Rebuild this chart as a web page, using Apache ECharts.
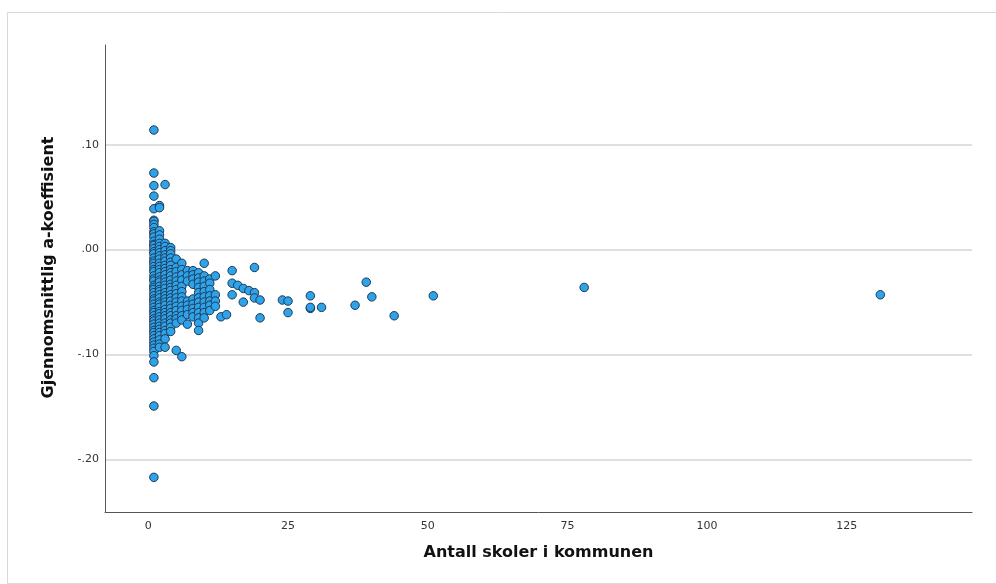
<!DOCTYPE html>
<html>
<head>
<meta charset="utf-8">
<script src="https://cdn.jsdelivr.net/npm/echarts@6/dist/echarts.min.js"></script>
<style>
  html, body { margin: 0; padding: 0; background: #ffffff; }
  #chart { width: 996px; height: 584px; }
</style>
</head>
<body>
<div id="chart"></div>
<script>
// Number of schools in the municipality (x) for the dense cluster columns
const clusterSchools = [1, 2, 3, 4, 5, 6, 7, 8, 9, 10, 11, 12, 13, 14];

// Average a-coefficient values for each cluster column
const coefAt1 = [0.114, 0.073, 0.061, 0.051, 0.039, 0.028, 0.027, 0.024, 0.021, 0.017, 0.015, 0.012, 0.008, 0.005, 0.004, 0.001, -0.002, -0.004, -0.008, -0.011, -0.013, -0.016, -0.019, -0.021, -0.025, -0.028, -0.030, -0.034, -0.036, -0.038, -0.041, -0.044, -0.047, -0.049, -0.052, -0.055, -0.058, -0.060, -0.063, -0.066, -0.068, -0.071, -0.074, -0.077, -0.079, -0.082, -0.085, -0.088, -0.091, -0.094, -0.097, -0.101, -0.107, -0.122, -0.149, -0.217];
const coefAt2 = [0.042, 0.040, 0.018, 0.014, 0.010, 0.006, 0.003, 0.000, -0.003, -0.006, -0.009, -0.013, -0.016, -0.019, -0.022, -0.026, -0.029, -0.031, -0.035, -0.038, -0.040, -0.043, -0.046, -0.050, -0.052, -0.055, -0.059, -0.061, -0.064, -0.067, -0.070, -0.073, -0.076, -0.079, -0.082, -0.086, -0.090, -0.093];
const coefAt3 = [0.062, 0.006, 0.003, -0.001, -0.005, -0.008, -0.011, -0.015, -0.018, -0.021, -0.024, -0.028, -0.031, -0.034, -0.037, -0.041, -0.044, -0.047, -0.050, -0.053, -0.057, -0.060, -0.063, -0.066, -0.070, -0.073, -0.077, -0.080, -0.085, -0.093];
const coefAt4 = [0.002, -0.001, -0.004, -0.008, -0.012, -0.015, -0.019, -0.022, -0.025, -0.029, -0.033, -0.036, -0.039, -0.043, -0.046, -0.049, -0.053, -0.056, -0.060, -0.063, -0.067, -0.070, -0.074, -0.078];
const coefAt5 = [-0.009, -0.017, -0.021, -0.026, -0.030, -0.034, -0.038, -0.042, -0.046, -0.050, -0.054, -0.058, -0.063, -0.066, -0.070, -0.096];
const coefAt6 = [-0.013, -0.019, -0.024, -0.029, -0.035, -0.040, -0.045, -0.049, -0.054, -0.058, -0.063, -0.067, -0.102];
const coefAt7 = [-0.020, -0.025, -0.030, -0.049, -0.053, -0.057, -0.062, -0.071];
const coefAt8 = [-0.020, -0.024, -0.028, -0.033, -0.047, -0.052, -0.056, -0.060, -0.064];
const coefAt9 = [-0.022, -0.027, -0.031, -0.036, -0.041, -0.046, -0.050, -0.055, -0.060, -0.065, -0.070, -0.077];
const coefAt10 = [-0.013, -0.025, -0.030, -0.035, -0.040, -0.045, -0.050, -0.055, -0.060, -0.065];
const coefAt11 = [-0.028, -0.032, -0.038, -0.044, -0.049, -0.053, -0.058];
const coefAt12 = [-0.025, -0.043, -0.049, -0.054];
const coefAt13 = [-0.064];
const coefAt14 = [-0.062];
const clusterCoefs = [coefAt1, coefAt2, coefAt3, coefAt4, coefAt5, coefAt6, coefAt7, coefAt8, coefAt9, coefAt10, coefAt11, coefAt12, coefAt13, coefAt14];

// Larger municipalities (x >= 15), paired values
const largeSchools = [15, 15, 15, 16, 17, 17, 18, 19, 19, 19, 20, 20, 24, 25, 25, 29, 29, 29, 31, 37, 39, 40, 44, 51, 78, 131];
const largeCoefs   = [-0.020, -0.032, -0.043, -0.034, -0.037, -0.050, -0.039, -0.017, -0.041, -0.046, -0.048, -0.065, -0.048, -0.049, -0.060, -0.044, -0.056, -0.055, -0.055, -0.053, -0.031, -0.045, -0.063, -0.044, -0.036, -0.043];

// Axis tick labels
const xTicks = [0, 25, 50, 75, 100, 125];
const yTicks = [-0.2, -0.1, 0, 0.1];

const points = [];
clusterSchools.forEach(function (s, i) {
  clusterCoefs[i].forEach(function (c) { points.push([s, c]); });
});
largeSchools.forEach(function (s, i) { points.push([s, largeCoefs[i]]); });

function fmtY(v) {
  const r = Math.round(v * 100) / 100;
  const s = Math.abs(r).toFixed(2).replace(/^0/, '');
  return (r < 0 ? '-' : '') + s;
}

const chart = echarts.init(document.getElementById('chart'), null, { renderer: 'canvas' });
chart.setOption({
  animation: false,
  backgroundColor: '#ffffff',
  graphic: [{
    type: 'rect',
    left: 5, top: 10,
    shape: { width: 1000, height: 571 },
    style: { fill: 'none', stroke: '#d9d9d9', lineWidth: 1 },
    silent: true,
    z: -10
  }],
  grid: { left: 105, right: 24, top: 45, bottom: 72, containLabel: false },
  xAxis: {
    type: 'value',
    min: -7.75,
    max: 147.4,
    name: 'Antall skoler i kommunen',
    nameLocation: 'middle',
    nameGap: 33,
    nameTextStyle: { fontFamily: 'DejaVu Sans', fontWeight: 'bold', fontSize: 16, color: '#111' },
    axisLine: { show: true, onZero: false, lineStyle: { color: '#555', width: 1 } },
    axisTick: { show: false, customValues: xTicks },
    axisLabel: { customValues: xTicks, color: '#333', fontFamily: 'DejaVu Sans', fontSize: 11, margin: 9 },
    splitLine: { show: false }
  },
  yAxis: {
    type: 'value',
    min: -0.25,
    max: 0.195,
    name: 'Gjennomsnittlig a-koeffisient',
    nameLocation: 'middle',
    nameGap: 48,
    nameTextStyle: { fontFamily: 'DejaVu Sans', fontWeight: 'bold', fontSize: 16, color: '#111', padding: [0, 0, 0, 22] },
    axisLine: { show: true, onZero: false, lineStyle: { color: '#555', width: 1 } },
    axisTick: { show: false, customValues: yTicks },
    axisLabel: { customValues: yTicks, color: '#333', fontFamily: 'DejaVu Sans', fontSize: 11, margin: 6, formatter: fmtY },
    splitLine: { show: true, lineStyle: { color: '#d4d4d4', width: 1.5 } }
  },
  series: [{
    type: 'scatter',
    data: points,
    symbol: 'circle',
    symbolSize: 8.5,
    itemStyle: { color: '#2ea3ea', borderColor: '#1d3a56', borderWidth: 1, opacity: 1 },
    emphasis: { disabled: true }
  }]
});
</script>
</body>
</html>
